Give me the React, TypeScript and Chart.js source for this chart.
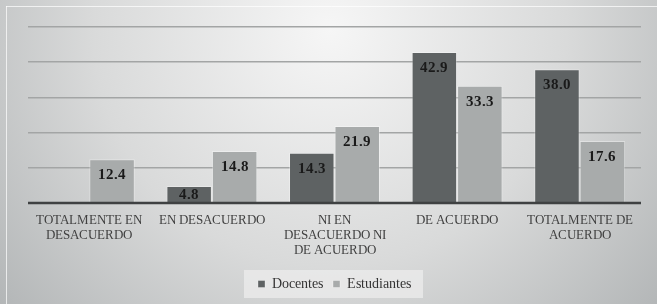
import React, { useEffect, useRef } from "react";
import { Chart, registerables } from "chart.js";
Chart.register(...registerables);

const categories: string[][] = [
  ["TOTALMENTE EN", "DESACUERDO"],
  ["EN DESACUERDO"],
  ["NI EN", "DESACUERDO NI", "DE ACUERDO"],
  ["DE ACUERDO"],
  ["TOTALMENTE DE", "ACUERDO"],
];
const docentes: (number | null)[] = [null, 4.8, 14.3, 42.9, 38.0];
const estudiantes: (number | null)[] = [12.4, 14.8, 21.9, 33.3, 17.6];
const seriesNames = ["Docentes", "Estudiantes"];
const yMax = 50;
const yStep = 10;

const DARK = "#5e6263";
const LIGHT = "#a8abab";
const FAMILY = '"ChartSerif", "Liberation Serif", "Times New Roman", "DejaVu Serif", serif';

const FACE_CSS = `
@font-face { font-family: "ChartSerif"; font-weight: 400; src: local("Liberation Serif"), local("LiberationSerif"), local("LiberationSerif-Regular"), local("Liberation Serif Regular"), local("DejaVu Serif"), local("DejaVuSerif"); }
@font-face { font-family: "ChartSerif"; font-weight: 700; src: local("Liberation Serif Bold"), local("LiberationSerif-Bold"), local("DejaVu Serif Bold"), local("DejaVuSerif-Bold"); }
`;

const bgPlugin = {
  id: "bgPlugin",
  beforeDraw(chart: any) {
    const { ctx, width, height } = chart;
    ctx.save();
    const g = ctx.createRadialGradient(330, 30, 0, 330, 30, 430);
    g.addColorStop(0, "#f6f6f6");
    g.addColorStop(0.55, "#d9dada");
    g.addColorStop(1, "#b3b6b7");
    ctx.fillStyle = g;
    ctx.fillRect(0, 0, width, height);
    ctx.strokeStyle = "rgba(255,255,255,0.7)";
    ctx.lineWidth = 1;
    ctx.beginPath();
    ctx.moveTo(6, 6.5);
    ctx.lineTo(width, 6.5);
    ctx.moveTo(6.5, 6);
    ctx.lineTo(6.5, height);
    ctx.stroke();
    const lg = chart.legend;
    if (lg && lg.legendHitBoxes && lg.legendHitBoxes.length) {
      const boxes = lg.legendHitBoxes;
      let l = Infinity, r = -Infinity, t = Infinity, b = -Infinity;
      boxes.forEach((h: any) => {
        l = Math.min(l, h.left);
        r = Math.max(r, h.left + h.width);
        t = Math.min(t, h.top);
        b = Math.max(b, h.top + h.height);
      });
      ctx.fillStyle = "rgba(236,236,236,0.75)";
      ctx.fillRect(l - 14, t - 7, r - l + 26, b - t + 14);
    }
    ctx.restore();
  },
};

const labelPlugin = {
  id: "labelPlugin",
  afterDatasetsDraw(chart: any) {
    const { ctx } = chart;
    const yScale = chart.scales.y;
    const base = yScale.getPixelForValue(0);
    ctx.save();
    ctx.strokeStyle = "#3f4142";
    ctx.lineWidth = 2.5;
    ctx.beginPath();
    ctx.moveTo(chart.chartArea.left, base);
    ctx.lineTo(chart.chartArea.right, base);
    ctx.stroke();
    ctx.font = `bold 15px ${FAMILY}`;
    ctx.fillStyle = "#1a1a1a";
    ctx.textAlign = "center";
    ctx.textBaseline = "middle";
    chart.data.datasets.forEach((ds: any, di: number) => {
      const meta = chart.getDatasetMeta(di);
      meta.data.forEach((bar: any, i: number) => {
        const v = ds.data[i];
        if (v === null || v === undefined) return;
        const y = Math.min(bar.y + 16, base - 8);
        ctx.fillText(v.toFixed(1), bar.x, y);
      });
    });
    ctx.restore();
  },
};

export default function App() {
  const ref = useRef<HTMLCanvasElement | null>(null);
  useEffect(() => {
    if (!ref.current) return;
    const style = document.createElement("style");
    style.textContent = FACE_CSS;
    document.head.appendChild(style);
    let chart: any = null;
    let cancelled = false;
    const make = () => {
      if (cancelled || !ref.current) return;
      chart = new Chart(ref.current, {
        type: "bar",
        data: {
          labels: categories as any,
          datasets: [
            {
              label: seriesNames[0],
              data: docentes,
              backgroundColor: DARK,
              borderColor: "rgba(255,255,255,0.3)",
              borderWidth: 1,
              categoryPercentage: 0.742,
              barPercentage: 1,
            },
            {
              label: seriesNames[1],
              data: estudiantes,
              backgroundColor: LIGHT,
              borderColor: "rgba(255,255,255,0.35)",
              borderWidth: 1,
              categoryPercentage: 0.742,
              barPercentage: 1,
            },
          ],
        },
        options: {
          animation: false,
          responsive: false,
          maintainAspectRatio: false,
          layout: { padding: { left: 28, right: 16, top: 27, bottom: 3 } },
          plugins: {
            tooltip: { enabled: false },
            legend: {
              position: "bottom",
              labels: {
                boxWidth: 7,
                boxHeight: 7,
                padding: 10,
                color: "#333333",
                font: { family: FAMILY, size: 14 },
              },
            },
          },
          scales: {
            x: {
              grid: { display: false, drawTicks: false },
              border: { display: false },
              ticks: {
                color: "#404040",
                padding: 10,
                maxRotation: 0,
                autoSkip: false,
                font: { family: FAMILY, size: 13, lineHeight: 1.15 },
              },
              afterFit: (s: any) => {
                s.height = 64;
              },
            },
            y: {
              min: 0,
              max: yMax,
              ticks: { display: false, stepSize: yStep },
              border: { display: false },
              grid: {
                drawTicks: false,
                color: (c: any) => (c.tick && c.tick.value === 0 ? "rgba(0,0,0,0)" : "#a3a5a5"),
                lineWidth: 1.5,
              },
              afterFit: (s: any) => {
                s.width = 0;
              },
            },
          },
        },
        plugins: [bgPlugin, labelPlugin],
      });
    };
    const fonts = (document as any).fonts;
    if (fonts && fonts.load) {
      Promise.all([
        fonts.load('13px "ChartSerif"'),
        fonts.load('bold 15px "ChartSerif"'),
      ]).then(make, make);
    } else {
      make();
    }
    return () => {
      cancelled = true;
      if (chart) chart.destroy();
      style.remove();
    };
  }, []);
  return (
    <div style={{ position: "fixed", left: 0, top: 0, width: 657, height: 304 }}>
      <canvas ref={ref} width={657} height={304} style={{ display: "block" }} />
    </div>
  );
}
